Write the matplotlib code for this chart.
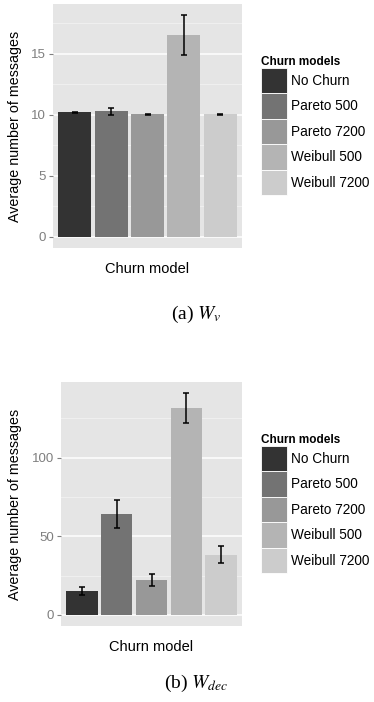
import matplotlib
matplotlib.use("Agg")
import matplotlib.pyplot as plt
from matplotlib.patches import Patch
import numpy as np

plt.rcParams['font.family'] = ['Liberation Sans', 'DejaVu Sans']
plt.rcParams['mathtext.fontset'] = 'stix'

categories = ["No Churn", "Pareto 500", "Pareto 7200", "Weibull 500", "Weibull 7200"]
colors = ["#333333", "#737373", "#989898", "#B4B4B4", "#CCCCCC"]

wv_values = [10.18, 10.27, 10.02, 16.5, 10.02]
wv_errors = [0.05, 0.3, 0.03, 1.65, 0.03]
wv_ticks = [0, 5, 10, 15]

wdec_values = [15.2, 64.3, 22.2, 131.5, 38.2]
wdec_errors = [2.6, 8.9, 3.5, 9.7, 5.5]
wdec_ticks = [0, 50, 100]

W, H = 374, 702
fig = plt.figure(figsize=(W / 100, H / 100), dpi=100)


def panel(rect_px, values, errors, ticks, minor, ylim, caption, cap_y, xlab_y, legend_top):
    l, t, r, b = rect_px
    ax = fig.add_axes([l / W, 1 - b / H, (r - l) / W, (b - t) / H])
    ax.set_facecolor("#E5E5E5")
    x = np.arange(1, len(values) + 1)
    for m in minor:
        ax.axhline(m, color="#F2F2F2", lw=0.6, zorder=0.5)
    for tk in ticks:
        ax.axhline(tk, color="white", lw=1.1, zorder=0.6)
    ax.bar(x, values, width=0.9, color=colors, zorder=2)
    ax.errorbar(x, values, yerr=errors, fmt="none", ecolor="black",
                elinewidth=1.1, capsize=2.2, capthick=1.1, zorder=3)
    ax.set_xlim(0.4, len(values) + 0.6)
    ax.set_ylim(*ylim)
    ax.set_xticks([])
    ax.set_yticks(ticks)
    ax.tick_params(axis="y", colors="#7F7F7F", labelcolor="#7F7F7F",
                   length=3, width=0.8, labelsize=9.5, pad=2)
    for s in ax.spines.values():
        s.set_visible(False)
    ax.set_ylabel("Average number of messages", fontsize=10.3, color="black")
    ax.yaxis.set_label_coords((22 - l) / (r - l), 0.5)
    fig.text((l + r) / 2 / W, 1 - xlab_y / H, "Churn model", ha="center",
             va="center", fontsize=10.5)
    fig.text(196 / W, 1 - cap_y / H, caption, ha="center", va="center",
             fontsize=14, family="Liberation Serif")
    handles = [Patch(facecolor=c, edgecolor="white", linewidth=0.6) for c in colors]
    fig.legend(handles, categories, loc="upper left",
               bbox_to_anchor=(261 / W, 1 - legend_top / H),
               frameon=False, title="Churn models",
               title_fontproperties={"weight": "bold", "size": 8.5},
               fontsize=9.8, handlelength=1.92, handleheight=2.5,
               labelspacing=0.0, handletextpad=0.3, borderpad=0,
               borderaxespad=0, alignment="left")
    return ax


panel((53, 4, 242, 248), wv_values, wv_errors, wv_ticks, [2.5, 7.5, 12.5, 17.5],
      (-0.91, 19.06), "(a) $W_v$", 314, 269, 56)
panel((61, 382, 242, 626), wdec_values, wdec_errors, wdec_ticks, [25, 75, 125],
      (-7.05, 148.1), "(b) $W_{dec}$", 683, 647, 434)

fig.savefig("out.png", dpi=100)
